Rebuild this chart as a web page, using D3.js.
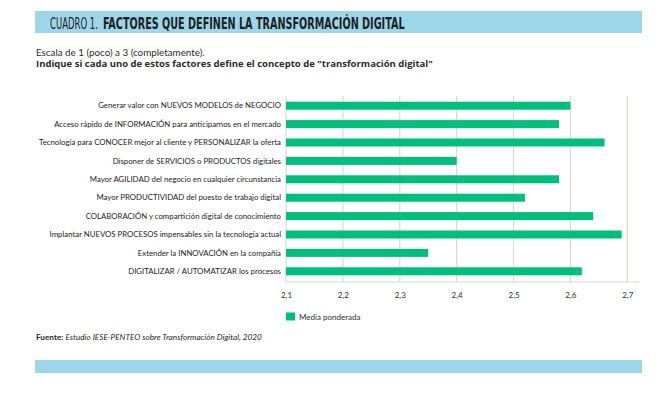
<!DOCTYPE html>
<html lang="es">
<head>
    <meta charset="UTF-8">
    <title>Factores que definen la transformación digital</title>
    <script src="https://d3js.org/d3.v7.min.js"></script>
    <style>
        body { margin: 0; background: #fff; }
        svg text { font-family: Lato, "Open Sans", sans-serif; fill: #2b2b2b; }
    </style>
</head>
<body>
    <div id="chart"></div>
    <script>
        // Datos del cuadro
        var factores = [
            "Generar valor con NUEVOS MODELOS de NEGOCIO",
            "Acceso rápido de INFORMACIÓN para anticiparnos en el mercado",
            "Tecnología para CONOCER mejor al cliente y PERSONALIZAR la oferta",
            "Disponer de SERVICIOS o PRODUCTOS digitales",
            "Mayor AGILIDAD del negocio en cualquier circunstancia",
            "Mayor PRODUCTIVIDAD del puesto de trabajo digital",
            "COLABORACIÓN y compartición digital de conocimiento",
            "Implantar NUEVOS PROCESOS impensables sin la tecnología actual",
            "Extender la INNOVACIÓN en la compañía",
            "DIGITALIZAR / AUTOMATIZAR los procesos"
        ];
        var mediaPonderada = [2.60, 2.58, 2.66, 2.40, 2.58, 2.52, 2.64, 2.69, 2.35, 2.62];
        var ticks = [2.1, 2.2, 2.3, 2.4, 2.5, 2.6, 2.7];
        var serieNombre = "Media ponderada";

        var W = 665, H = 393;
        var verde = "#00bf7c", azul = "#9dd6e8", rejilla = "#dcd8d4";
        var condensada = "'Liberation Sans Narrow', 'DejaVu Sans Condensed', sans-serif";

        var svg = d3.select("#chart").append("svg")
            .attr("width", W).attr("height", H);

        // Barra de cabecera y pie
        svg.append("rect").attr("x", 35).attr("y", 11).attr("width", 607).attr("height", 22).attr("fill", azul);
        svg.append("rect").attr("x", 35).attr("y", 360).attr("width", 607).attr("height", 13).attr("fill", azul);

        // ajusta un texto en horizontal hasta el ancho pedido
        function ajustar(t, x0, y0, ancho) {
            var natural = t.node().getComputedTextLength();
            t.attr("x", 0).attr("y", 0)
             .attr("transform", "translate(" + x0 + "," + y0 + ") scale(" + (ancho / natural) + ",1)");
            return t;
        }
        function textoAncho(x0, y0, ancho, txt, estilo) {
            var t = svg.append("text").text(txt);
            Object.keys(estilo).forEach(k => t.style(k, estilo[k]));
            return ajustar(t, x0, y0, ancho);
        }

        // Titulo (dos piezas: ligera + negrita)
        textoAncho(50, 29, 48, "CUADRO 1.", {"font-family": condensada, "font-size": "16px", "fill": "#1f1f1f"});
        textoAncho(103, 29, 302, "FACTORES QUE DEFINEN LA TRANSFORMACIÓN DIGITAL",
            {"font-family": condensada, "font-size": "16px", "font-weight": "bold", "fill": "#1f1f1f"});

        textoAncho(36, 56, 169, "Escala de 1 (poco) a 3 (completamente).", {"font-size": "9px"});
        textoAncho(36, 66.5, 397, "Indique si cada uno de estos factores define el concepto de \"transformación digital\"",
            {"font-family": "'Open Sans', sans-serif", "font-size": "8.5px", "font-weight": "bold"});

        // Escalas
        var x = d3.scaleLinear().domain([2.1, 2.7]).range([286, 627.3]);
        var y = d3.scaleBand().domain(factores).range([96.5, 280.5])
            .paddingInner(0.565).paddingOuter(0.2825);

        // Rejilla vertical
        svg.append("g").selectAll("line").data(ticks).join("line")
            .attr("x1", d => x(d)).attr("x2", d => x(d))
            .attr("y1", 96).attr("y2", 282)
            .attr("stroke", rejilla).attr("stroke-width", 1.2);

        // Eje horizontal
        var ejeX = svg.append("g").attr("transform", "translate(0,282)")
            .call(d3.axisBottom(x).tickValues(ticks).tickSize(0).tickPadding(10)
                .tickFormat(d => d3.format(".1f")(d).replace(".", ",")));
        ejeX.select(".domain").remove();
        ejeX.selectAll("text").style("font-size", "8px").style("font-family", "Lato, sans-serif").attr("fill", "#2b2b2b");
        svg.append("line").attr("x1", 286).attr("x2", 639).attr("y1", 282).attr("y2", 282)
            .attr("stroke", rejilla).attr("stroke-width", 1.2);

        // Barras
        svg.append("g").selectAll("rect").data(mediaPonderada).join("rect")
            .attr("x", x(2.1))
            .attr("y", (d, i) => y(factores[i]))
            .attr("width", d => x(d) - x(2.1))
            .attr("height", y.bandwidth())
            .attr("fill", verde);

        // Etiquetas de categoria
        svg.append("g").selectAll("text").data(factores).join("text")
            .attr("x", 281)
            .attr("y", d => y(d) + y.bandwidth() / 2)
            .attr("dy", "0.35em")
            .attr("text-anchor", "end")
            .style("font-size", "7.8px")
            .style("fill", "#222")
            .text(d => d);

        // Leyenda
        svg.append("rect").attr("x", 286).attr("y", 312.5).attr("width", 9).attr("height", 8).attr("fill", verde);
        svg.append("text").attr("x", 299).attr("y", 319.5).style("font-size", "8px").text(serieNombre);

        // Fuente
        var fuente = svg.append("text").style("font-size", "8px").style("fill", "#1f1f1f");
        fuente.append("tspan").text("Fuente: ").style("font-weight", "bold");
        fuente.append("tspan").text("Estudio IESE-PENTEO sobre Transformación Digital, 2020").style("font-style", "italic");
        ajustar(fuente, 36, 340, 226);
    </script>
</body>
</html>
